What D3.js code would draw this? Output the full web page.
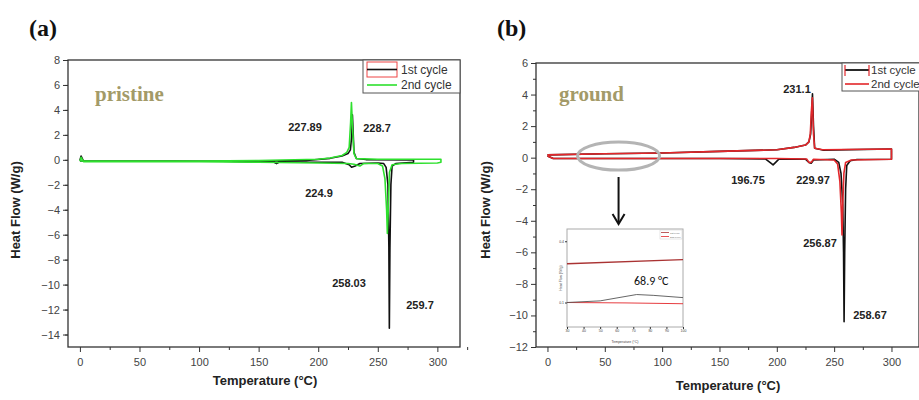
<!DOCTYPE html>
<html>
<head>
<meta charset="utf-8">
<script src="https://cdn.jsdelivr.net/npm/d3@7"></script>
<style>
  body { margin: 0; background: #fff; }
  svg { display: block; }
  .tick text { font-family: Arial, "Liberation Sans", sans-serif; font-size: 11px; fill: #444; }
  .tick line { stroke: #333; }
</style>
</head>
<body>
<div id="vis"><svg></svg></div>
<script>
// ---- data: [temperature (C), heat flow (W/g)] ----
// (a) pristine, 1st cycle: heating then cooling
var pristine1st = [
  [0,-0.05],[1,0.3],[3,-0.1],[80,-0.1],[120,-0.12],[150,-0.18],[163,-0.2],[165,-0.3],[167,-0.2],
  [190,-0.2],[220,-0.2],[226,-0.4],[228,-0.6],[231,-0.5],[235,-0.3],[250,-0.25],[255,-0.3],
  [257,-0.6],[258.5,-2],[259.3,-7],[259.7,-13.5],[260.2,-7],[261,-2],[262,-0.5],[265,-0.3],[280,-0.2],
  [280,0.0],[240,0.02],[232,0.1],[230,0.6],[229.2,2.5],[228.7,3.6],[228.2,2],[227,0.8],[225,0.5],
  [220,0.3],[210,0.12],[190,-0.05],[150,-0.1],[100,-0.12],[50,-0.12],[0,-0.1]
];
// (a) pristine, 2nd cycle
var pristine2nd = [
  [0,-0.1],[1,0.2],[3,-0.15],[50,-0.15],[100,-0.15],[150,-0.2],[200,-0.25],[225,-0.3],[230,-0.35],
  [235,-0.5],[238,-0.3],[250,-0.3],[254,-0.5],[256,-1.5],[257.4,-4],[258.03,-5.9],[258.8,-4],
  [259.8,-1],[262,-0.4],[270,-0.3],[300,-0.25],[303,-0.2],
  [303,0.05],[300,0.05],[250,0.05],[232,0.1],[230,0.5],[228.6,3],[227.89,4.6],[227.2,3],[226,1],
  [224,0.6],[220,0.35],[210,0.15],[200,0.05],[150,-0.05],[100,-0.1],[50,-0.1],[0,-0.1]
];
// (b) ground, 1st cycle
var ground1st = [
  [0,0.1],[5,-0.05],[50,-0.05],[100,-0.05],[150,-0.05],[190,-0.08],[194,-0.3],[196.75,-0.46],
  [199,-0.3],[202,-0.08],[225,-0.1],[228,-0.3],[229.97,-0.35],[232,-0.15],[250,-0.1],[254,-0.3],
  [256,-1],[257.5,-3],[258.2,-6],[258.67,-10.4],[259.2,-6],[260,-2],[261,-0.5],[264,-0.2],[270,-0.12],
  [300,-0.1],[300,0.55],[240,0.48],[233,0.6],[232,2],[231.1,4.05],[230.5,3],[229.5,1.5],[228,1.0],
  [225,0.8],[215,0.65],[200,0.5],[150,0.4],[100,0.3],[50,0.25],[0,0.18]
];
// (b) ground, 2nd cycle
var ground2nd = [
  [0,0.1],[5,-0.05],[100,-0.05],[200,-0.05],[226,-0.08],[228,-0.3],[230,-0.3],[232,-0.1],
  [250,-0.15],[253,-0.4],[255,-1.5],[256.3,-3.5],[256.87,-4.9],[257.5,-3],[258.5,-1],[260,-0.3],
  [265,-0.15],[300,-0.1],
  [300,0.55],[240,0.5],[233,0.6],[232,1.5],[231,3.8],[230.2,3],[229.2,1.5],[228,1.0],[225,0.8],
  [215,0.65],[200,0.5],[150,0.4],[100,0.3],[50,0.25],[0,0.18]
];
// inset (zoom of 30-100 C region)
var insetUpper = [[30,0.29],[100,0.31]];
var insetLower2nd = [[30,0.1],[65,0.098],[100,0.094]];
var insetLower1st = [[30,0.1],[50,0.108],[62,0.125],[72,0.139],[82,0.135],[100,0.124]];

// peak labels
var pristineLabels = [
  {text: "227.89", x: 305, y: 127}, {text: "228.7", x: 377, y: 128},
  {text: "224.9", x: 319, y: 193}, {text: "258.03", x: 349, y: 283},
  {text: "259.7", x: 420, y: 305}
];
var groundLabels = [
  {text: "231.1", x: 797, y: 89}, {text: "196.75", x: 748, y: 180},
  {text: "229.97", x: 813, y: 180}, {text: "256.87", x: 820, y: 243},
  {text: "258.67", x: 870, y: 315}
];

var xTicks = [0, 50, 100, 150, 200, 250, 300];
var aYTicks = [8, 6, 4, 2, 0, -2, -4, -6, -8, -10, -12, -14];
var bYTicks = [6, 4, 2, 0, -2, -4, -6, -8, -10, -12];

var W = 919, H = 400;
var svg = d3.select("#vis").select("svg").attr("width", W).attr("height", H);

var font = "Arial, 'Liberation Sans', sans-serif";
var serif = "'Liberation Serif', 'DejaVu Serif', serif";

function drawPanel(o) {
  var x = d3.scaleLinear().domain(o.xd).range(o.xr);
  var y = d3.scaleLinear().domain(o.yd).range(o.yr);

  var g = svg.append("g");

  // minor ticks
  g.append("g").attr("transform", "translate(0," + o.yr[0] + ")")
    .call(d3.axisBottom(x).tickValues(d3.range(25, 326, 50)).tickSize(3).tickFormat("").tickSizeOuter(0))
    .call(function(s){ s.select(".domain").remove(); });
  g.append("g").attr("transform", "translate(" + o.xr[0] + ",0)")
    .call(d3.axisLeft(y).tickValues(d3.range(o.yd[0] + 1, o.yd[1], 2)).tickSize(3).tickFormat("").tickSizeOuter(0))
    .call(function(s){ s.select(".domain").remove(); });

  // major ticks
  g.append("g").attr("transform", "translate(0," + o.yr[0] + ")")
    .call(d3.axisBottom(x).tickValues(xTicks).tickSize(5).tickSizeOuter(0).tickPadding(6))
    .call(function(s){ s.select(".domain").remove(); });
  g.append("g").attr("transform", "translate(" + o.xr[0] + ",0)")
    .call(d3.axisLeft(y).tickValues(o.yTicks).tickSize(5).tickSizeOuter(0).tickPadding(3))
    .call(function(s){ s.select(".domain").remove(); });

  // frame
  g.append("rect")
    .attr("x", o.xr[0]).attr("y", o.yr[1])
    .attr("width", o.xr[1] - o.xr[0]).attr("height", o.yr[0] - o.yr[1])
    .attr("fill", "none").attr("stroke", "#333").attr("stroke-width", 1.3);

  var line = d3.line()
    .x(function(d){ return x(d[0]); })
    .y(function(d){ return y(d[1]); });

  o.series.forEach(function(s) {
    g.append("path")
      .attr("d", line(s.values))
      .attr("fill", "none")
      .attr("stroke", s.color)
      .attr("stroke-width", 1.6)
      .attr("stroke-linejoin", "round");
  });

  // axis titles
  g.append("text")
    .attr("x", (o.xr[0] + o.titleX)).attr("y", 385 + o.titleDy)
    .attr("text-anchor", "middle")
    .style("font-family", font).style("font-weight", "bold").style("font-size", "13px")
    .attr("fill", "#222")
    .text("Temperature (°C)");
  g.append("text")
    .attr("transform", "translate(" + o.yTitleX + ",210) rotate(-90)")
    .attr("text-anchor", "middle")
    .style("font-family", font).style("font-weight", "bold").style("font-size", "13px")
    .attr("fill", "#222")
    .text("Heat Flow (W/g)");

  // panel letter and sample name
  g.append("text")
    .attr("x", o.letterX).attr("y", 36)
    .style("font-family", serif).style("font-weight", "bold").style("font-size", "24px")
    .attr("fill", "#111")
    .text(o.letter);
  g.append("text")
    .attr("x", o.nameX).attr("y", 101)
    .style("font-family", serif).style("font-weight", "bold").style("font-size", "21px")
    .attr("fill", "#a39a68")
    .text(o.name);

  // peak labels
  g.selectAll("peakLabels")
    .data(o.labels)
    .enter()
    .append("text")
      .attr("x", function(d){ return d.x; })
      .attr("y", function(d){ return d.y + 4; })
      .attr("text-anchor", "middle")
      .style("font-family", font).style("font-weight", "bold").style("font-size", "11px")
      .attr("fill", "#222")
      .text(function(d){ return d.text; });

  return {x: x, y: y, g: g};
}

var a = drawPanel({
  xd: [-10, 319], xr: [68, 460], yd: [-15, 8], yr: [347, 60], yTicks: aYTicks,
  series: [{values: pristine1st, color: "#111"}, {values: pristine2nd, color: "#2ee02e"}],
  titleX: 197, titleDy: 0, yTitleX: 20, letter: "(a)", letterX: 29, name: "pristine", nameX: 95,
  labels: pristineLabels
});

var b = drawPanel({
  xd: [-10, 324], xr: [536, 919], yd: [-12, 6], yr: [347, 63], yTicks: bYTicks,
  series: [{values: ground1st, color: "#111"}, {values: ground2nd, color: "#e3262a"}],
  titleX: 192, titleDy: 5, yTitleX: 490, letter: "(b)", letterX: 497, name: "ground", nameX: 559,
  labels: groundLabels
});

// legend (a)
var la = svg.append("g");
la.append("rect").attr("x", 363).attr("y", 60).attr("width", 97).attr("height", 33)
  .attr("fill", "#fff").attr("stroke", "#555").attr("stroke-width", 1);
la.append("rect").attr("x", 367).attr("y", 62).attr("width", 30).attr("height", 15)
  .attr("fill", "none").attr("stroke", "#e44").attr("stroke-width", 1);
la.append("line").attr("x1", 367).attr("x2", 397).attr("y1", 69.5).attr("y2", 69.5)
  .attr("stroke", "#111").attr("stroke-width", 1.6);
la.append("line").attr("x1", 367).attr("x2", 397).attr("y1", 85).attr("y2", 85)
  .attr("stroke", "#2ee02e").attr("stroke-width", 1.6);
la.append("text").attr("x", 401).attr("y", 74).text("1st cycle")
  .style("font-family", font).style("font-size", "12px").attr("fill", "#333");
la.append("text").attr("x", 401).attr("y", 89).text("2nd cycle")
  .style("font-family", font).style("font-size", "12px").attr("fill", "#333");

// legend (b)
var lb = svg.append("g");
lb.append("rect").attr("x", 842).attr("y", 63).attr("width", 90).attr("height", 28)
  .attr("fill", "#fff").attr("stroke", "#555").attr("stroke-width", 1);
lb.append("line").attr("x1", 845).attr("x2", 869).attr("y1", 70).attr("y2", 70)
  .attr("stroke", "#111").attr("stroke-width", 1.8);
[845, 869].forEach(function(px) {
  lb.append("line").attr("x1", px).attr("x2", px).attr("y1", 65).attr("y2", 76)
    .attr("stroke", "#e3262a").attr("stroke-width", 1.2);
});
lb.append("line").attr("x1", 845).attr("x2", 869).attr("y1", 84).attr("y2", 84)
  .attr("stroke", "#e3262a").attr("stroke-width", 1.6);
lb.append("text").attr("x", 871).attr("y", 74).text("1st cycle")
  .style("font-family", font).style("font-size", "11.5px").attr("fill", "#333");
lb.append("text").attr("x", 871).attr("y", 88).text("2nd cycle")
  .style("font-family", font).style("font-size", "11.5px").attr("fill", "#333");

// highlight ellipse and arrow on (b)
b.g.append("ellipse")
  .attr("cx", b.x(62)).attr("cy", b.y(0.1)).attr("rx", 41).attr("ry", 14)
  .attr("fill", "none").attr("stroke", "#b4b4b4").attr("stroke-width", 3);
b.g.append("line")
  .attr("x1", b.x(62)).attr("x2", b.x(62)).attr("y1", 177).attr("y2", 222)
  .attr("stroke", "#111").attr("stroke-width", 2);
b.g.append("path")
  .attr("d", "M" + (b.x(62) - 6) + ",214 L" + b.x(62) + ",224 L" + (b.x(62) + 6) + ",214")
  .attr("fill", "none").attr("stroke", "#111").attr("stroke-width", 2);

// inset
var ix = d3.scaleLinear().domain([30, 100]).range([567, 683]);
var iy = d3.scaleLinear().domain([-0.02, 0.46]).range([327, 229]);
var ig = svg.append("g");
ig.append("rect").attr("x", 567).attr("y", 229).attr("width", 116).attr("height", 98)
  .attr("fill", "#fff").attr("stroke", "#aaa").attr("stroke-width", 1);
ig.append("g").attr("transform", "translate(0,327)")
  .call(d3.axisBottom(ix).ticks(7).tickSize(2).tickSizeOuter(0).tickPadding(1))
  .call(function(s){
    s.select(".domain").remove();
    s.selectAll("text").style("font-size", "3.5px");
    s.selectAll("line").attr("stroke", "#888");
  });
ig.append("g").attr("transform", "translate(567,0)")
  .call(d3.axisLeft(iy).tickValues([0.1, 0.4]).tickFormat(d3.format(".1f")).tickSize(2).tickSizeOuter(0).tickPadding(1))
  .call(function(s){
    s.select(".domain").remove();
    s.selectAll("text").style("font-size", "3.5px");
    s.selectAll("line").attr("stroke", "#888");
  });
var iline = d3.line().x(function(d){ return ix(d[0]); }).y(function(d){ return iy(d[1]); });
ig.append("path").attr("d", iline(insetUpper)).attr("fill", "none").attr("stroke", "#a33").attr("stroke-width", 1.4);
ig.append("path").attr("d", iline(insetLower2nd)).attr("fill", "none").attr("stroke", "#e3262a").attr("stroke-width", 0.9);
ig.append("path").attr("d", iline(insetLower1st)).attr("fill", "none").attr("stroke", "#555").attr("stroke-width", 0.9);
ig.append("text").attr("x", 634).attr("y", 285).text("68.9 °C")
  .style("font-family", "Calibri, Carlito, 'Liberation Sans', sans-serif").style("font-size", "12px").attr("fill", "#111");
ig.append("text").attr("x", 625).attr("y", 343).attr("text-anchor", "middle").text("Temperature (°C)")
  .style("font-family", font).style("font-size", "3.5px").attr("fill", "#444");
ig.append("text").attr("transform", "translate(562,278) rotate(-90)").attr("text-anchor", "middle").text("Heat Flow (W/g)")
  .style("font-family", font).style("font-size", "3.5px").attr("fill", "#444");
// inset legend
ig.append("rect").attr("x", 660).attr("y", 230).attr("width", 22).attr("height", 9)
  .attr("fill", "none").attr("stroke", "#ccc").attr("stroke-width", 0.5);
ig.append("line").attr("x1", 661).attr("x2", 669).attr("y1", 232.5).attr("y2", 232.5).attr("stroke", "#a33").attr("stroke-width", 0.8);
ig.append("line").attr("x1", 661).attr("x2", 669).attr("y1", 236.5).attr("y2", 236.5).attr("stroke", "#e3262a").attr("stroke-width", 0.8);
ig.append("text").attr("x", 670).attr("y", 234).text("1st cycle").style("font-family", font).style("font-size", "2.5px").attr("fill", "#666");
ig.append("text").attr("x", 670).attr("y", 238).text("2nd cycle").style("font-family", font).style("font-size", "2.5px").attr("fill", "#666");
</script>
</body>
</html>
